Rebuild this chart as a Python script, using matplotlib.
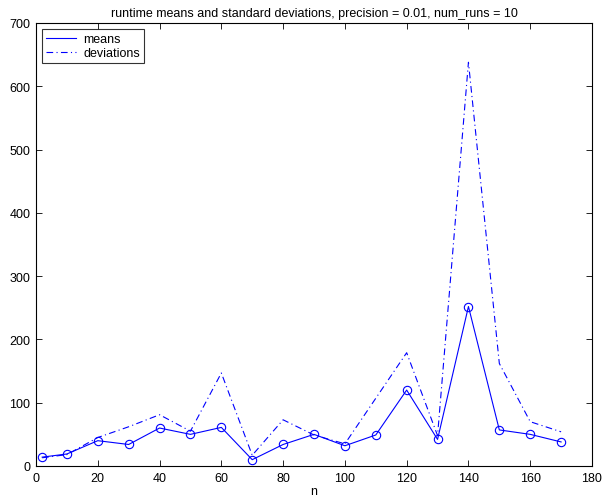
import matplotlib
matplotlib.use("Agg")
import matplotlib.pyplot as plt
from matplotlib.lines import Line2D

n = [2, 10, 20, 30, 40, 50, 60, 70, 80, 90, 100, 110, 120, 130, 140, 150, 160, 170]
means = [14, 19, 40, 34, 60, 50, 61, 10, 34, 50, 32, 49, 120, 42, 252, 57, 50, 38]
deviations = [13, 18, 45, 62, 81, 55, 147, 17, 73, 49, 35, 107, 179, 48, 638, 162, 70, 54]

plt.rcParams['font.family'] = ['Liberation Sans', 'DejaVu Sans']
fig = plt.figure(figsize=(6.09, 5.02), dpi=100)
ax = fig.add_axes([36/609, 1-467/502, (592-36)/609, (467-24)/502])

dash = (0, (6, 3, 1, 3))
ax.plot(n, means, '-', color='blue', lw=0.8, marker='o', markersize=6,
        markerfacecolor='none', markeredgecolor='blue', markeredgewidth=0.8)
ax.plot(n, deviations, linestyle=dash, color='blue', lw=0.8)

ax.set_xlim(0, 180)
ax.set_ylim(0, 700)
ax.set_xticks(range(0, 181, 20))
ax.set_yticks(range(0, 701, 100))
ax.tick_params(direction='in', top=True, right=True, labelsize=9, length=4, width=0.6, pad=4)
for s in ax.spines.values():
    s.set_linewidth(0.8)
ax.set_title('runtime means and standard deviations, precision = 0.01, num_runs = 10', fontsize=9, pad=5)
ax.set_xlabel('n', fontsize=9, labelpad=1)
handles = [Line2D([], [], color='blue', lw=0.8, linestyle='-'),
           Line2D([], [], color='blue', lw=0.8, linestyle=dash)]
leg = ax.legend(handles, ['means', 'deviations'], loc='upper left', fontsize=9, frameon=True,
                fancybox=False, edgecolor='black', borderaxespad=0.5, handlelength=2.4,
                borderpad=0.3, labelspacing=0.15, handletextpad=0.6)
leg.get_frame().set_linewidth(0.8)

fig.savefig('out.png', dpi=100)
